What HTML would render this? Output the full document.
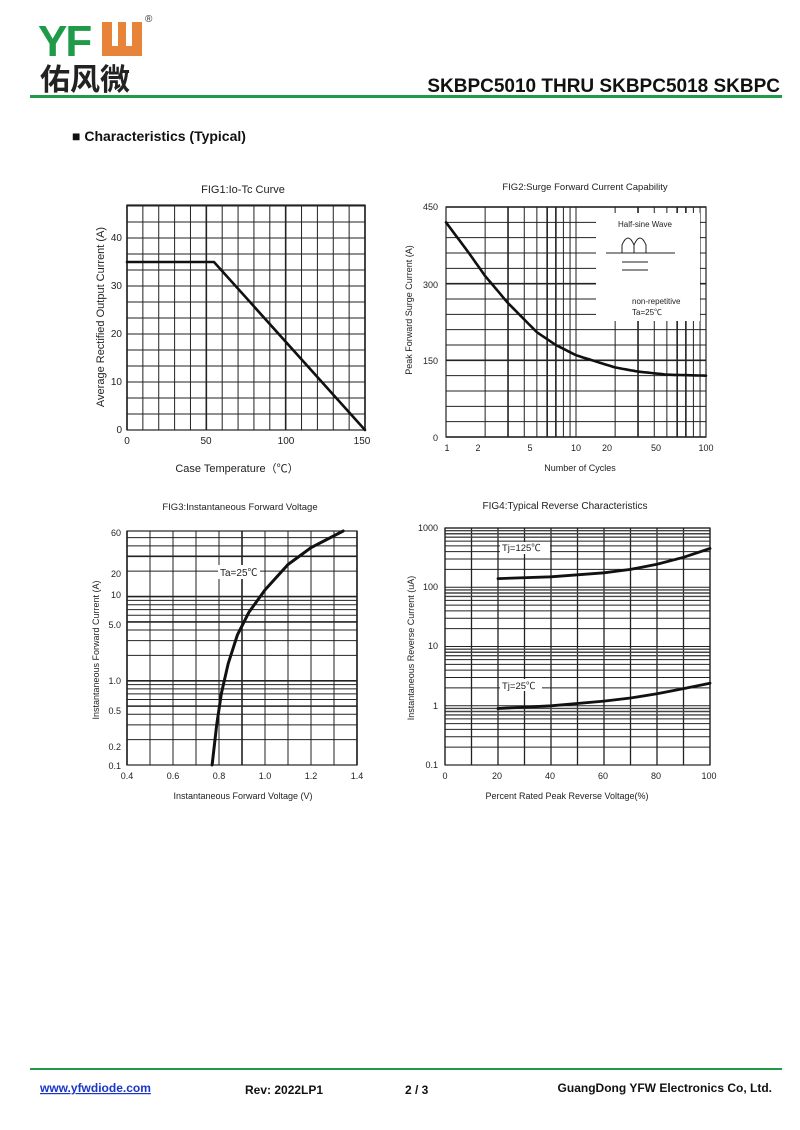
<!DOCTYPE html>
<html><head><meta charset="utf-8"><style>
body{margin:0;background:#fff;}
svg{display:block;font-family:"Liberation Sans","Noto Sans CJK SC",sans-serif;}
</style></head><body>
<svg id="s" width="800" height="1130" viewBox="0 0 800 1130" xmlns="http://www.w3.org/2000/svg">
<rect width="800" height="1130" fill="#fff"/>
<!-- header -->
<text x="38" y="56" font-size="44" font-weight="bold" fill="#1f9a48" letter-spacing="-2">YF</text>
<rect x="102" y="22" width="40" height="34" fill="#e8843a"/>
<rect x="112" y="22" width="6" height="24" fill="#fff"/><rect x="126" y="22" width="6" height="24" fill="#fff"/>
<text x="145" y="22" font-size="10" fill="#333">®</text>
<text x="40" y="90" font-size="30" font-weight="bold" fill="#222" font-family="Noto Sans CJK SC,sans-serif">佑风微</text>
<text x="780" y="92" font-size="19" font-weight="bold" text-anchor="end" fill="#111">SKBPC5010 THRU SKBPC5018 SKBPC</text>
<rect x="30" y="95" width="752" height="3" fill="#1f9a48"/>
<text x="72" y="141" font-size="14" font-weight="bold" fill="#111">■ Characteristics (Typical)</text>
<!-- titles -->
<text x="243" y="193" font-size="11" text-anchor="middle" fill="#222">FIG1:Io-Tc Curve</text>
<text x="585" y="190" font-size="9.5" text-anchor="middle" fill="#222">FIG2:Surge Forward Current Capability</text>
<text x="240" y="510" font-size="9.5" text-anchor="middle" fill="#222">FIG3:Instantaneous Forward Voltage</text>
<text x="565" y="509" font-size="10" text-anchor="middle" fill="#222">FIG4:Typical Reverse Characteristics</text>
<g id="g"></g>
<!-- fig1 labels -->
<g font-size="10" fill="#222">
<text x="122" y="241" text-anchor="end">40</text><text x="122" y="289" text-anchor="end">30</text><text x="122" y="337" text-anchor="end">20</text><text x="122" y="385" text-anchor="end">10</text><text x="122" y="433" text-anchor="end">0</text>
<text x="127" y="444" text-anchor="middle">0</text><text x="206" y="444" text-anchor="middle">50</text><text x="286" y="444" text-anchor="middle">100</text><text x="362" y="444" text-anchor="middle">150</text>
<text x="237" y="472" font-size="11" text-anchor="middle">Case Temperature（℃）</text>
<text transform="translate(104,317) rotate(-90)" font-size="11" text-anchor="middle">Average Rectified Output Current (A)</text>
</g>
<!-- fig2 labels -->
<g font-size="9" fill="#222">
<text x="438" y="210" text-anchor="end">450</text><text x="438" y="288" text-anchor="end">300</text><text x="438" y="364" text-anchor="end">150</text><text x="438" y="441" text-anchor="end">0</text>
<text x="447" y="451" text-anchor="middle">1</text><text x="478" y="451" text-anchor="middle">2</text><text x="530" y="451" text-anchor="middle">5</text><text x="576" y="451" text-anchor="middle">10</text><text x="607" y="451" text-anchor="middle">20</text><text x="656" y="451" text-anchor="middle">50</text><text x="706" y="451" text-anchor="middle">100</text>
<text x="580" y="471" text-anchor="middle">Number of Cycles</text>
<text transform="translate(412,310) rotate(-90)" text-anchor="middle">Peak Forward Surge Current (A)</text>
</g>
<rect x="596" y="213" width="104" height="108" fill="#fff"/>
<g font-size="8" fill="#222">
<text x="645" y="227" text-anchor="middle">Half-sine Wave</text>
<text x="632" y="304">non-repetitive</text><text x="632" y="315">Ta=25℃</text>
</g>
<path d="M606 253H675M622 253V245q6-14 12 0v8M634 253V245q6-14 12 0v8M622 262H648M622 270H648" fill="none" stroke="#222" stroke-width="1"/>
<!-- fig3 labels -->
<g font-size="9" fill="#222">
<text x="121" y="536" text-anchor="end">60</text><text x="121" y="577" text-anchor="end">20</text><text x="121" y="598" text-anchor="end">10</text><text x="121" y="628" text-anchor="end">5.0</text><text x="121" y="684" text-anchor="end">1.0</text><text x="121" y="714" text-anchor="end">0.5</text><text x="121" y="750" text-anchor="end">0.2</text><text x="121" y="769" text-anchor="end">0.1</text>
<text x="127" y="779" text-anchor="middle">0.4</text><text x="173" y="779" text-anchor="middle">0.6</text><text x="219" y="779" text-anchor="middle">0.8</text><text x="265" y="779" text-anchor="middle">1.0</text><text x="311" y="779" text-anchor="middle">1.2</text><text x="357" y="779" text-anchor="middle">1.4</text>
<text x="243" y="799" text-anchor="middle">Instantaneous Forward Voltage (V)</text>
<text transform="translate(99,650) rotate(-90)" text-anchor="middle">Instantaneous Forward Current (A)</text>
</g>
<rect x="218" y="565" width="42" height="14" fill="#fff"/>
<text x="220" y="576" font-size="10" fill="#222">Ta=25℃</text>
<!-- fig4 labels -->
<g font-size="9" fill="#222">
<text x="438" y="531" text-anchor="end">1000</text><text x="438" y="590" text-anchor="end">100</text><text x="438" y="649" text-anchor="end">10</text><text x="438" y="709" text-anchor="end">1</text><text x="438" y="768" text-anchor="end">0.1</text>
<text x="445" y="779" text-anchor="middle">0</text><text x="497" y="779" text-anchor="middle">20</text><text x="550" y="779" text-anchor="middle">40</text><text x="603" y="779" text-anchor="middle">60</text><text x="656" y="779" text-anchor="middle">80</text><text x="709" y="779" text-anchor="middle">100</text>
<text x="567" y="799" text-anchor="middle">Percent Rated Peak Reverse Voltage(%)</text>
<text transform="translate(414,648) rotate(-90)" text-anchor="middle">Instantaneous Reverse Current (uA)</text>
</g>
<rect x="500" y="542" width="50" height="12" fill="#fff"/><text x="502" y="551" font-size="9.5" fill="#222">Tj=125℃</text>
<rect x="500" y="679" width="42" height="12" fill="#fff"/><text x="502" y="689" font-size="9.5" fill="#222">Tj=25℃</text>
<!-- footer -->
<rect x="30" y="1068" width="752" height="2" fill="#1f9a48"/>
<text x="40" y="1092" font-size="12" font-weight="bold" fill="#1a35c8" text-decoration="underline">www.yfwdiode.com</text>
<text x="245" y="1094" font-size="12" font-weight="bold" fill="#111">Rev: 2022LP1</text>
<text x="405" y="1094" font-size="12" font-weight="bold" fill="#111">2 / 3</text>
<text x="772" y="1092" font-size="12" font-weight="bold" fill="#111" text-anchor="end">GuangDong YFW Electronics Co, Ltd.</text>
</svg>
<script>
var g=document.getElementById('g'),NS='http://www.w3.org/2000/svg';
function L(x1,y1,x2,y2,w,c){var e=document.createElementNS(NS,'line');e.setAttribute('x1',x1);e.setAttribute('y1',y1);e.setAttribute('x2',x2);e.setAttribute('y2',y2);e.setAttribute('stroke',c||'#222');e.setAttribute('stroke-width',w||1);g.appendChild(e);}
function P(d,w){var e=document.createElementNS(NS,'path');e.setAttribute('d',d);e.setAttribute('fill','none');e.setAttribute('stroke','#111');e.setAttribute('stroke-width',w||3);e.setAttribute('stroke-linecap','round');g.appendChild(e);}
function R(x,y,w,h){var e=document.createElementNS(NS,'rect');e.setAttribute('x',x);e.setAttribute('y',y);e.setAttribute('width',w);e.setAttribute('height',h);e.setAttribute('fill','none');e.setAttribute('stroke','#222');e.setAttribute('stroke-width',1.2);g.appendChild(e);}
// fig1
var x0=127,x1=365,y0=205,y1=430,i;
for(i=0;i<=15;i++){var x=x0+i*(x1-x0)/15;L(x,y0,x,y1,i%5==0?1.6:1);}
for(var y=y1;y>=y0-1;y-=16)L(x0,y,x1,y,1);
R(x0,y0,x1-x0,y1-y0);
P('M127 262L214 262L365 430',2.6);
// fig2
x0=446;x1=706;y0=207;y1=437;
function lx(v){return x0+Math.log10(v)/2*(x1-x0);}
[1,2,3,4,5,6,7,8,9,10,20,30,40,50,60,70,80,90,100].forEach(function(v){L(lx(v),y0,lx(v),y1,(v==6||v==7||v==60||v==70||v==3||v==30)?1.6:1);});
for(i=0;i<=15;i++){var yy=y1-i*(y1-y0)/15;L(x0,yy,x1,yy,i%5==0?1.6:1);}
R(x0,y0,x1-x0,y1-y0);
var pts=[[1,420],[1.5,360],[2,315],[3,262],[5,205],[7,180],[10,160],[20,136],[30,128],[50,122],[100,120]],d='';
function ly(v){return y1-v/450*(y1-y0);}
// smooth interp
for(var k=0;k<=100;k++){var lv=k/50,v=Math.pow(10,lv),a=0;for(var j=0;j<pts.length-1;j++){if(v>=pts[j][0]&&v<=pts[j+1][0]){var t=(Math.log(v)-Math.log(pts[j][0]))/(Math.log(pts[j+1][0])-Math.log(pts[j][0]));a=pts[j][1]+t*(pts[j+1][1]-pts[j][1]);}}d+=(k?'L':'M')+lx(v).toFixed(1)+' '+ly(a).toFixed(1);}
P(d,2.6);
// fig3
x0=127;x1=357;y0=531;y1=765;
var dec=(y1-y0)/Math.log10(600);function fy(v){return y1-Math.log10(v/0.1)*dec;}
for(i=0;i<=10;i++){var xx=x0+i*23;L(xx,y0,xx,y1,i%5==0?1.6:1);}
[0.1,0.2,0.3,0.4,0.5,0.6,0.7,0.8,0.9,1,2,3,4,5,6,7,8,9,10,20,30,40,50,60].forEach(function(v){L(x0,fy(v),x1,fy(v),(v==0.5||v==1||v==5||v==10||v==30)?1.6:1);});
R(x0,y0,x1-x0,y1-y0);
pts=[[0.77,0.1],[0.79,0.3],[0.81,0.7],[0.84,1.6],[0.88,3.5],[0.93,6.5],[1.0,12],[1.1,24],[1.2,38],[1.34,60]];d='';
pts.forEach(function(p,k){d+=(k?'L':'M')+(x0+(p[0]-0.4)*230).toFixed(1)+' '+fy(p[1]).toFixed(1);});
P(d,3);
// fig4
x0=445;x1=710;y0=528;y1=765;dec=(y1-y0)/4;
function ry(v){return y1-Math.log10(v/0.1)*dec;}
for(i=0;i<=10;i++){var xx=x0+i*26.5;L(xx,y0,xx,y1,1.3);}
for(var e=-1;e<3;e++)for(var m=1;m<10;m++){var v=m*Math.pow(10,e);L(x0,ry(v),x1,ry(v),m>=7?1.4:1,m>=7?'#444':'#222');}
L(x0,y0,x1,y0,1.3);
R(x0,y0,x1-x0,y1-y0);
function cur(p){var s='';p.forEach(function(q,k){s+=(k?'L':'M')+(x0+q[0]*2.65).toFixed(1)+' '+ry(q[1]).toFixed(1);});return s;}
P(cur([[20,140],[40,150],[60,175],[70,200],[80,245],[90,320],[100,450]]),2.8);
P(cur([[20,0.9],[40,1.0],[60,1.2],[70,1.35],[80,1.6],[90,1.95],[100,2.4]]),2.8);
</script>
</body></html>
